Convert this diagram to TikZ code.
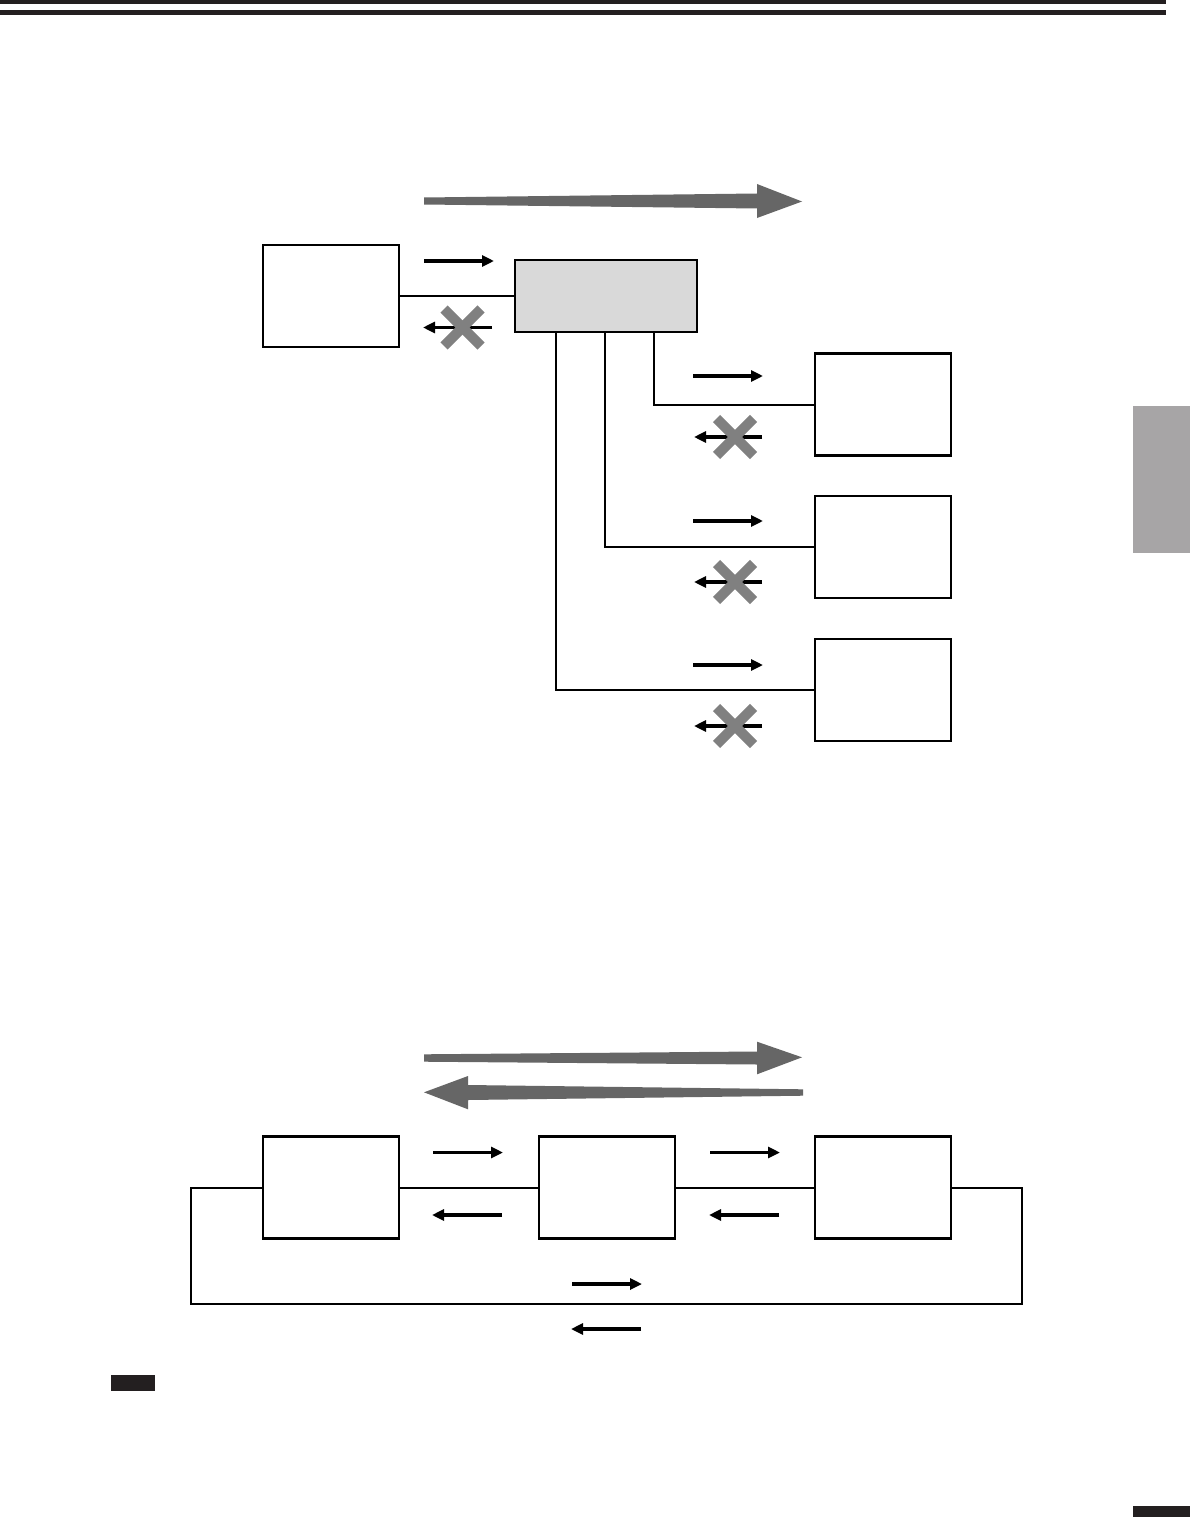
\documentclass[tikz,border=0pt]{standalone}
\usetikzlibrary{arrows.meta}
\definecolor{bigarrow}{HTML}{666666}
\definecolor{xgray}{HTML}{808080}
\definecolor{boxgray}{HTML}{D9D9D9}
\definecolor{tabgray}{HTML}{A7A5A6}
\definecolor{inkblack}{HTML}{231F20}
\tikzset{
  box/.style={draw=black, line width=2.6pt, minimum width=136pt, minimum height=102pt, inner sep=0pt, outer sep=0pt},
  hubbox/.style={box, fill=boxgray, minimum width=182pt, minimum height=72pt},
  wire/.style={draw=black, line width=2pt},
  sarrow/.style={draw=black, line width=3.2pt, -{Triangle[length=12pt,width=11pt]}},
  xmark/.style={draw=xgray, line width=10pt, line cap=butt},
  bigfill/.style={fill=bigarrow, draw=none}
}
\begin{document}
\begin{tikzpicture}[x=1pt,y=-1pt]
\useasboundingbox (0,0) rectangle (1190,1517);
\fill[white] (0,0) rectangle (1190,1517);
% header rules
\fill[inkblack] (0,0) rectangle (1166,4);
\fill[inkblack] (0,10) rectangle (1166,15);
% side tab and page marks
\fill[tabgray] (1133,406) rectangle (1190,553);
\fill[inkblack] (111,1375) rectangle (155,1391);
\fill[inkblack] (1133,1506) rectangle (1190,1517);

% ===== top diagram =====
\path[bigfill] (424,197.5) -- (757,193.5) -- (757,184) -- (802,201.5) -- (757,218) -- (757,208.5) -- (424,204.5) -- cycle;

\node[box] (L) at (331,296) {};
\node[hubbox] (G) at (606,296) {};
\node[box] (R1) at (883,404.5) {};
\node[box] (R2) at (883,547) {};
\node[box] (R3) at (883,690) {};

\draw[wire] (L.east) -- (G.west);
\draw[wire] ([xshift=139pt]G.south west) |- (R1.west);
\draw[wire] ([xshift=90pt]G.south west) |- (R2.west);
\draw[wire] ([xshift=41pt]G.south west) |- (R3.west);

% small arrows top
\draw[sarrow] (424,261) -- (494,261);
\draw[sarrow] (492,327.5) -- (423,327.5);
\draw[xmark] (444,309) -- (481,346);
\draw[xmark] (444,346) -- (481,309);

\foreach \ya/\yb in {376/437, 521/582, 665/726}{
  \draw[sarrow] (693,\ya) -- (763,\ya);
  \draw[sarrow] (762,\yb) -- (694,\yb);
  \draw[xmark] (716.5,\yb-18.5) -- (753.5,\yb+18.5);
  \draw[xmark] (716.5,\yb+18.5) -- (753.5,\yb-18.5);
}

% ===== bottom diagram =====
\path[bigfill] (424,1054.3) -- (757,1051.5) -- (757,1041.7) -- (802,1057.3) -- (757,1074.3) -- (757,1064.5) -- (424,1061.7) -- cycle;
\path[bigfill] (803,1089.3) -- (468,1085) -- (468,1076) -- (424,1092.3) -- (468,1109.3) -- (468,1100) -- (803,1095.7) -- cycle;

\node[box] (BL) at (331,1187.5) {};
\node[box] (BM) at (607,1187.5) {};
\node[box] (BR) at (883,1187.5) {};
\coordinate (loopL) at ([xshift=-72pt,yshift=-116.5pt]BL.west);
\coordinate (loopR) at ([xshift=71pt]BR.east);

\draw[wire] (BL.east) -- (BM.west);
\draw[wire] (BM.east) -- (BR.west);
\draw[wire] (BL.west) -| (loopL) -| (loopR) -- (BR.east);

\draw[sarrow] (433,1152.5) -- (503,1152.5);
\draw[sarrow] (502,1215) -- (432,1215);
\draw[sarrow] (710,1152.5) -- (780,1152.5);
\draw[sarrow] (779,1215) -- (709,1215);
\draw[sarrow] (572,1284) -- (642,1284);
\draw[sarrow] (641,1329) -- (571,1329);
\end{tikzpicture}
\end{document}
